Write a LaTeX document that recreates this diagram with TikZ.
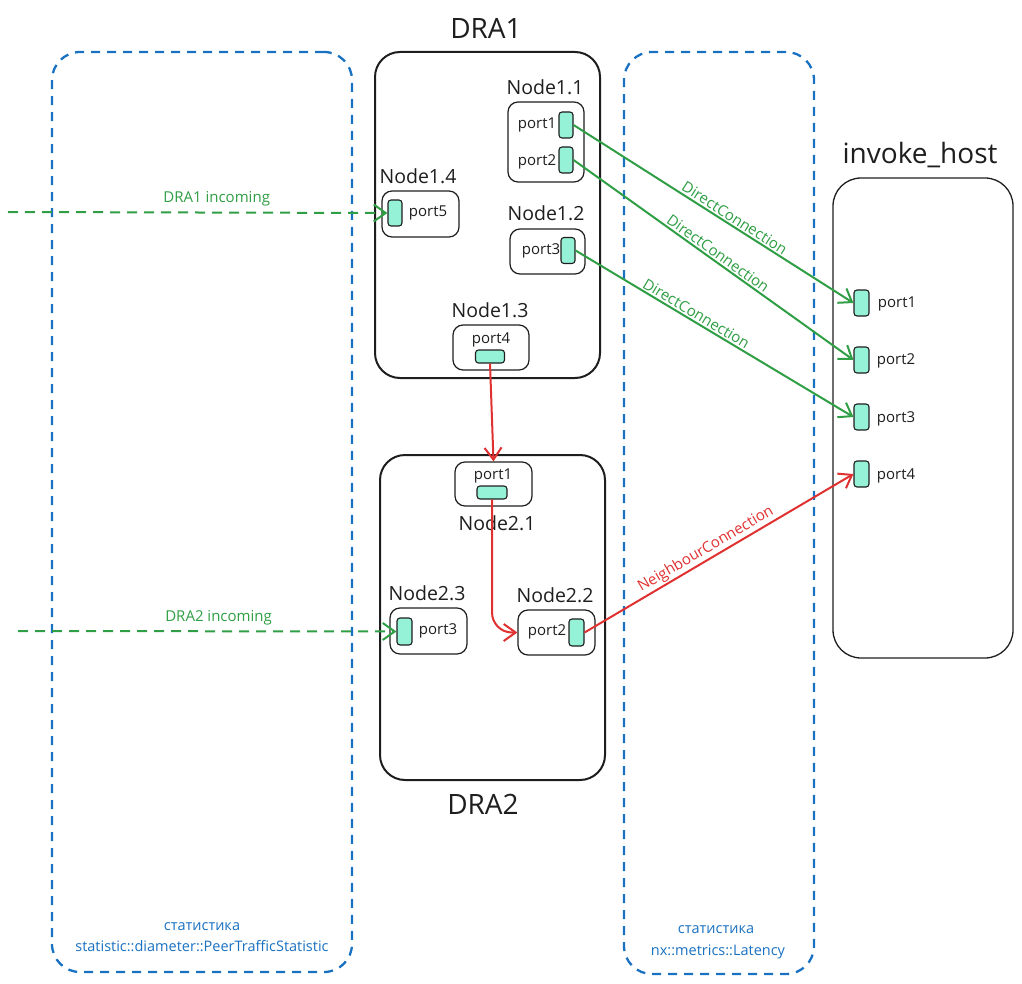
\documentclass[tikz,border=0pt]{standalone}
\usepackage{fontspec}
\setmainfont{Open Sans}
\usetikzlibrary{arrows.meta}
\definecolor{ink}{HTML}{1E1E1E}
\definecolor{grn}{HTML}{2F9E44}
\definecolor{rd}{HTML}{E03131}
\definecolor{blu}{HTML}{1971C2}
\definecolor{portfill}{HTML}{96F2D7}
\tikzset{
  bigbox/.style={draw=ink, line width=2pt, rounded corners=25pt, inner sep=0pt},
  hostbox/.style={draw=ink, line width=1.3pt, rounded corners=28pt, inner sep=0pt},
  zone/.style={draw=blu, line width=2.3pt, dash pattern=on 9pt off 7pt, rounded corners=28pt, inner sep=0pt},
  nbox/.style={draw=ink, line width=1.2pt, rounded corners=10pt, inner sep=0pt},
  vport/.style={draw=ink, fill=portfill, line width=1.1pt, rounded corners=3pt, inner sep=0pt, minimum width=14pt, minimum height=26pt},
  hport/.style={draw=ink, fill=portfill, line width=1.1pt, rounded corners=3pt, inner sep=0pt, minimum width=29pt, minimum height=13pt},
  ttl/.style={text=ink, font=\fontsize{28}{30}\selectfont, inner sep=0pt},
  ntl/.style={text=ink, font=\fontsize{19.5}{21}\selectfont, inner sep=0pt},
  plbl/.style={text=ink, font=\fontsize{15}{17}\selectfont, inner sep=0pt},
  elbl/.style={font=\fontsize{15}{17}\selectfont, inner sep=1.5pt},
  zlbl/.style={text=blu, font=\fontsize{14.5}{16}\selectfont, inner sep=0pt},
  tip/.style={-{Straight Barb[length=12pt,width=17pt]}},
  gline/.style={draw=grn, line width=2pt, tip},
  gdash/.style={gline, dash pattern=on 10pt off 7pt},
  rline/.style={draw=rd, line width=2pt, tip},
}
\begin{document}
\begin{tikzpicture}[x=1pt,y=-1pt]
\useasboundingbox (0,0) rectangle (1022,984);
% zones
\node[zone, minimum width=300pt, minimum height=920pt] (zl) at (202,512) {};
\node[zone, minimum width=190pt, minimum height=922pt] (zr) at (719,513) {};
\node[zlbl] (zl1) at (202,927) {статистика};
\node[zlbl] (zl2) at (202,946) {statistic::diameter::PeerTrafficStatistic};
\node[zlbl] (zr1) at (716,930) {статистика};
\node[zlbl] (zr2) at (718,952) {nx::metrics::Latency};
% DRA1
\node[bigbox, minimum width=225pt, minimum height=326pt] (dra1) at (487.5,215) {};
\node[ttl] (t1) at (486,28) {DRA1};
\node[nbox, fill=white, minimum width=76pt, minimum height=80pt] (n11) at (546,142) {};
\node[ntl] (t11) at (545,87) {Node1.1};
\node[vport] (p11) at (566,125) {};
\node[plbl] (l11) at (537,125) {port1};
\node[vport] (p12) at (566,160) {};
\node[plbl] (l12) at (537,162) {port2};
\node[nbox, minimum width=77pt, minimum height=46pt] (n14) at (420.5,214) {};
\node[ntl] (t14) at (418,176) {Node1.4};
\node[vport] (p15) at (395,213) {};
\node[plbl] (l15) at (428,213) {port5};
\node[nbox, minimum width=75pt, minimum height=45pt] (n12) at (547.5,251.5) {};
\node[ntl] (t12) at (546,213) {Node1.2};
\node[vport] (p13) at (568,250.5) {};
\node[plbl] (l13) at (541,251) {port3};
\node[nbox, minimum width=76pt, minimum height=45pt] (n13) at (491,347.5) {};
\node[ntl] (t13) at (490,310) {Node1.3};
\node[hport] (p14) at (490,356.5) {};
\node[plbl] (l14) at (491,340) {port4};
% DRA2
\node[bigbox, minimum width=225pt, minimum height=325pt] (dra2) at (492.5,617.5) {};
\node[ttl] (t2) at (483,804) {DRA2};
\node[nbox, minimum width=77pt, minimum height=44pt] (n21) at (493.5,484) {};
\node[ntl] (t21) at (497,523) {Node2.1};
\node[hport, minimum width=30pt] (p21) at (492,492.5) {};
\node[plbl] (l21) at (493,476) {port1};
\node[nbox, minimum width=77pt, minimum height=46pt] (n23) at (428.5,631) {};
\node[ntl] (t23) at (427,593) {Node2.3};
\node[vport, minimum width=15pt, minimum height=27pt] (p23) at (404.5,631.5) {};
\node[plbl] (l23) at (438,631) {port3};
\node[nbox, minimum width=77pt, minimum height=45pt] (n22) at (556.5,632.5) {};
\node[ntl] (t22) at (555,595) {Node2.2};
\node[vport, minimum width=15pt, minimum height=27pt] (p22) at (576.5,632.5) {};
\node[plbl] (l22) at (547,632) {port2};
% invoke_host
\node[hostbox, minimum width=180pt, minimum height=480pt] (host) at (923,418) {};
\node[ttl] (th) at (920,155) {invoke\_host};
\node[vport, minimum width=15pt] (h1) at (861.5,303) {};
\node[vport, minimum width=15pt] (h2) at (861.5,360) {};
\node[vport, minimum width=15pt] (h3) at (861.5,417) {};
\node[vport, minimum width=15pt] (h4) at (861.5,474) {};
\node[plbl] (hl1) at (897,304) {port1};
\node[plbl] (hl2) at (896,361) {port2};
\node[plbl] (hl3) at (896,419) {port3};
\node[plbl] (hl4) at (896,476) {port4};
% incoming
\coordinate (in1) at (8,212);
\coordinate (in2) at (18,631);
\draw[gdash] (in1) -- (p15.west) node[elbl, text=grn, pos=0.55, above=4pt] {DRA1 incoming};
\draw[gdash] (in2) -- (p23.west) node[elbl, text=grn, pos=0.53, above=4pt] {DRA2 incoming};
% direct connections
\draw[gline] (p11.east) -- (h1.west) node[elbl, text=grn, pos=0.56, above, sloped] {DirectConnection};
\draw[gline] (p12.east) -- (h2.west) node[elbl, text=grn, pos=0.5, above, sloped] {DirectConnection};
\draw[gline] (p13.east) -- (h3.west) node[elbl, text=grn, pos=0.42, above, sloped] {DirectConnection};
% red
\draw[rline] (p14.south) -- (n21.north);
\draw[rline, rounded corners=20pt] (p21.south) |- (n22.west);
\draw[rline] (p22.east) -- (h4.west) node[elbl, text=rd, pos=0.47, above, sloped] {NeighbourConnection};
\end{tikzpicture}
\end{document}
